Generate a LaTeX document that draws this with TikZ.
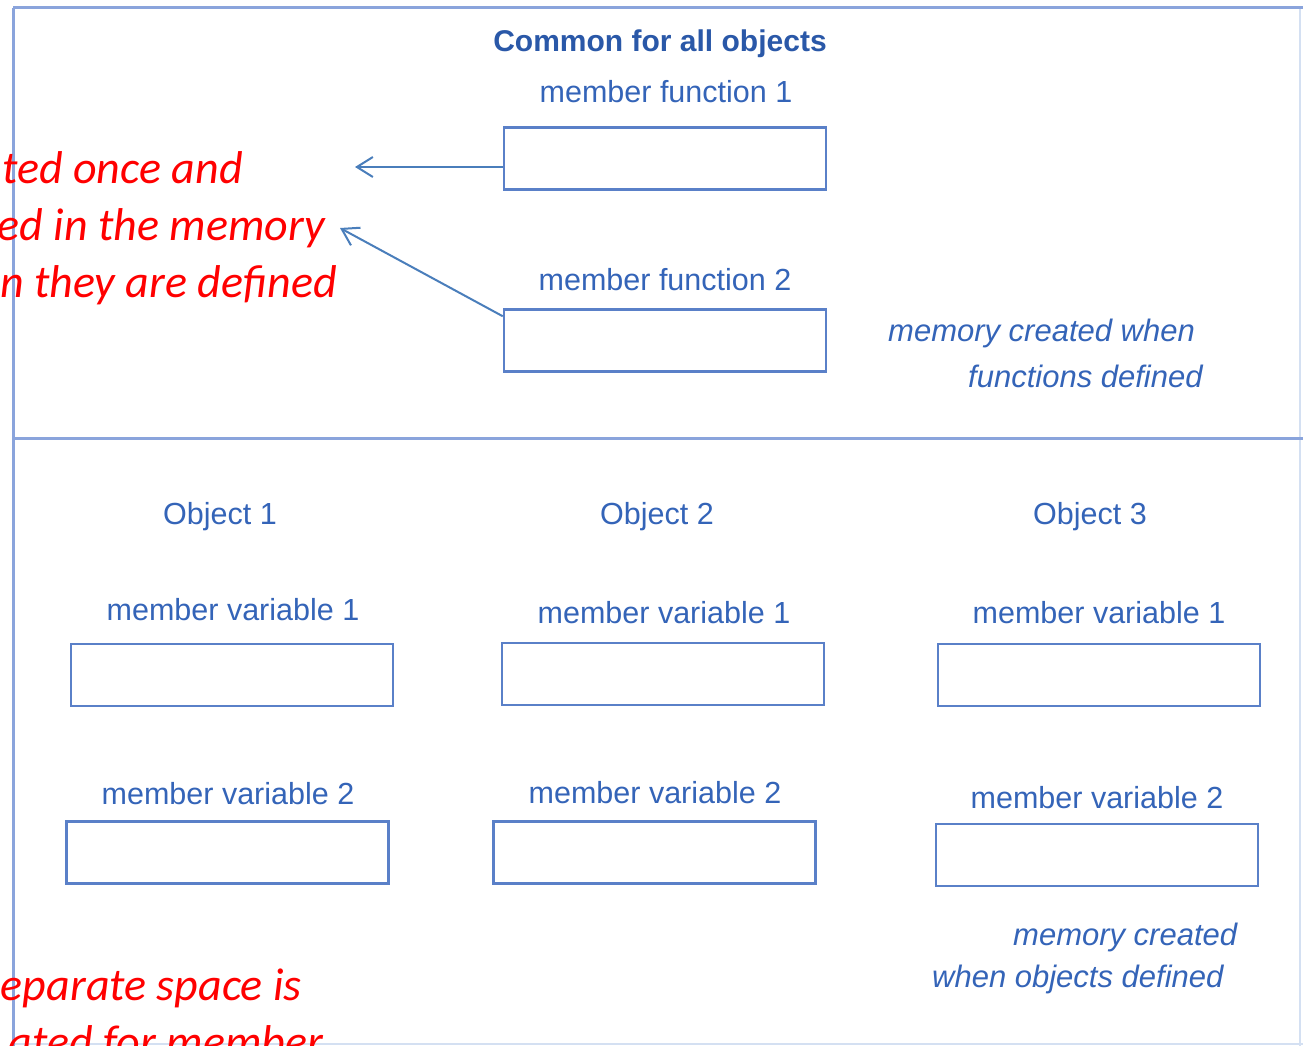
\documentclass[tikz,border=0pt]{standalone}
\usepackage{fontspec}
\usetikzlibrary{arrows.meta,calc}
\newfontfamily\arialf{Liberation Sans}
\newfontfamily\calib{Carlito}
\definecolor{frameblue}{HTML}{8AA4DC}
\definecolor{boxblue}{HTML}{5A80C8}
\definecolor{txtblue}{HTML}{3464B8}
\definecolor{darkblue}{HTML}{2A58A8}
\definecolor{arrblue}{HTML}{4A7EBB}
\definecolor{faint}{HTML}{D4E0F2}
\begin{document}
\begin{tikzpicture}[x=1pt,y=-1pt,
  frameline/.style={draw=frameblue,line width=3pt},
  membox/.style={draw=boxblue,line width=2.5pt,rectangle,minimum width=322pt,minimum height=62pt,inner sep=0pt},
  lbl/.style={text=txtblue,font=\arialf\fontsize{30.5}{36}\selectfont,inner sep=0pt},
  title/.style={text=darkblue,font=\arialf\bfseries\fontsize{30}{36}\selectfont,inner sep=0pt},
  note/.style={text=txtblue,font=\arialf\itshape\fontsize{31}{36}\selectfont,inner sep=0pt,anchor=west},
  redtxt/.style={text=red,font=\calib\itshape\fontsize{46}{54}\selectfont,inner sep=0pt,anchor=base east},
  arr/.style={draw=arrblue,line width=2pt,-{Straight Barb[length=16pt,width=20pt,line width=2pt]}}
]
\useasboundingbox (0,0) rectangle (1303,1046);
\clip (0,0) rectangle (1303,1046);
\fill[white] (0,0) rectangle (1303,1046);

% frame
\draw[faint,line width=2pt] (13,1044) -- (1303,1044);
\draw[faint,line width=2pt] (1300,8) -- (1300,1046);
\draw[frameline] (13,8) -- (1303,8);
\draw[frameline] (13,8) -- (13,1046);
\draw[frameline] (13,438) -- (1303,438);

% common part
\node[title] (common) at (660,44) {Common for all objects};
\node[lbl] (mf1l) at (666,92) {member function 1};
\node[membox] (mf1) at (665,158.5) {};
\node[lbl] (mf2l) at (665,280) {member function 2};
\node[membox] (mf2) at (665,340.5) {};
\node[note] (n1a) at (888,333) {memory created when};
\node[note] (n1b) at (968,376) {functions defined};

% red text top
\node[redtxt] (r1) at (243,183) {ted once and};
\node[redtxt] (r2) at (325,240) {ed in the memory};
\node[redtxt] (r3) at (337,297) {n they are defined};

% arrows
\coordinate (t1) at (355,167);
\coordinate (t2) at (340,228);
\draw[arr] (mf1.west |- t1) -- (t1);
\draw[arr] ($(mf2.north west)+(0,8)$) -- (t2);

% objects
\node[lbl] (o1) at (220,517) {Object 1};
\node[lbl] (o2) at (657,517) {Object 2};
\node[lbl] (o3) at (1090,517) {Object 3};

\node[lbl] (v11l) at (233,610) {member variable 1};
\node[lbl] (v21l) at (664,613) {member variable 1};
\node[lbl] (v31l) at (1099,613) {member variable 1};
\node[membox] (v11) at (232,675) {};
\node[membox] (v21) at (663,674) {};
\node[membox] (v31) at (1099,675) {};

\node[lbl] (v12l) at (228,794) {member variable 2};
\node[lbl] (v22l) at (655,793) {member variable 2};
\node[lbl] (v32l) at (1097,798) {member variable 2};
\node[membox] (v12) at (227.5,852.5) {};
\node[membox] (v22) at (654.5,852.5) {};
\node[membox] (v32) at (1097,855) {};

\node[note] (n2a) at (1013,937) {memory created};
\node[note] (n2b) at (932,979) {when objects defined};

% red text bottom
\node[redtxt] (r4) at (302,1000) {eparate space is};
\node[redtxt] (r5) at (323,1057) {ated for member};
\end{tikzpicture}
\end{document}
